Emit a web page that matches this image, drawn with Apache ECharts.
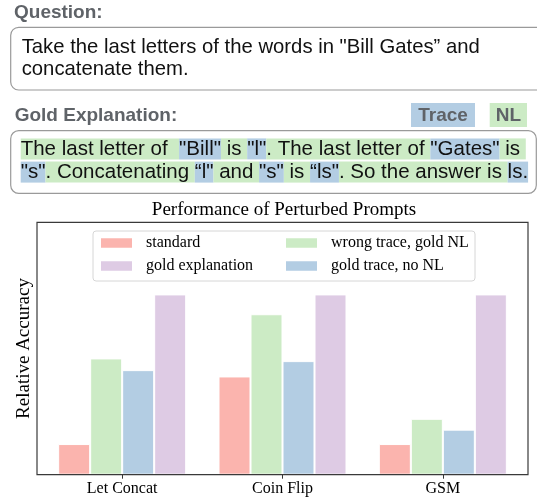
<!DOCTYPE html>
<html>
<head>
<meta charset="utf-8">
<script src="https://cdn.jsdelivr.net/npm/echarts@6/dist/echarts.min.js"></script>
<style>
html, body { margin: 0; padding: 0; background: #fff; }
#main { width: 537px; height: 497px; }
</style>
</head>
<body>
<div id="main"></div>
<script>
// bar data (relative accuracy, gold explanation = 1)
var categories = ['Let Concat', 'Coin Flip', 'GSM'];
var standard = [0.17, 0.545, 0.17];
var wrongTraceGoldNL = [0.645, 0.89, 0.31];
var goldTraceNoNL = [0.58, 0.63, 0.25];
var goldExplanation = [1, 1, 1];
var seriesNames = ['standard', 'wrong trace, gold NL', 'gold trace, no NL', 'gold explanation'];
var seriesData = [standard, wrongTraceGoldNL, goldTraceNoNL, goldExplanation];
var colors = ['#fbb4ae', '#ccebc5', '#b3cde3', '#decbe4'];

// text panel
var questionLines = ['Take the last letters of the words in "Bill Gates\u201d and', 'concatenate them.'];
// g = natural language, b = trace
var explanation = [
  [['The last letter of  ', 'g'], ['"Bill"', 'b'], [' is ', 'g'], ['"l"', 'b'], ['. The last letter of ', 'g'], ['"Gates"', 'b'], [' is ', 'g']],
  [['"s"', 'b'], ['. Concatenating ', 'g'], ['\u201cl"', 'b'], [' and ', 'g'], ['"s"', 'b'], [' is ', 'g'], ['\u201cls"', 'b'], ['. So the answer is ', 'g'], ['ls.', 'b']]
];

var sans = 'Liberation Sans';
var serif = 'Liberation Serif';
var labelGray = '#5f6368';

var richText = explanation.map(function (line) {
  return line.map(function (p) { return '{' + p[1] + '|' + p[0] + '}'; }).join('');
}).join('\n');

var chart = echarts.init(document.getElementById('main'));

var option = {
  animation: false,
  title: {
    text: 'Performance of Perturbed Prompts',
    left: 284,
    textAlign: 'center',
    top: 201,
    padding: 0,
    textStyle: { fontFamily: serif, fontSize: 19, fontWeight: 'normal', color: '#000' }
  },
  legend: [
    {
      data: [seriesNames[0], seriesNames[3]],
      orient: 'vertical', left: 99, top: 235, padding: 0,
      itemWidth: 33, itemHeight: 11.5, itemGap: 7, icon: 'rect',
      textStyle: { fontFamily: serif, fontSize: 16, color: '#000', padding: [0, 0, 0, 8] }
    },
    {
      data: [seriesNames[1], seriesNames[2]],
      orient: 'vertical', left: 284, top: 235, padding: 0,
      itemWidth: 33, itemHeight: 11.5, itemGap: 7, icon: 'rect',
      textStyle: { fontFamily: serif, fontSize: 16, color: '#000', padding: [0, 0, 0, 8] }
    }
  ],
  grid: { left: 42, right: 14, top: 222.3, bottom: 22.3 },
  xAxis: {
    type: 'category',
    data: categories,
    axisLine: { show: false },
    axisTick: { show: true, alignWithLabel: true, length: 4, lineStyle: { color: '#333' } },
    axisLabel: { fontFamily: serif, fontSize: 16, color: '#000', margin: 6 }
  },
  yAxis: {
    type: 'value', min: 0, max: 1.4,
    name: 'Relative Accuracy', nameLocation: 'middle', nameGap: 8,
    nameTextStyle: { fontFamily: serif, fontSize: 19, color: '#000' },
    axisLine: { show: false }, axisTick: { show: false },
    axisLabel: { show: false }, splitLine: { show: false }
  },
  series: seriesNames.map(function (name, i) {
    return {
      name: name,
      type: 'bar',
      data: seriesData[i],
      barWidth: 32,
      barGap: '0%',
      itemStyle: { color: colors[i], borderColor: '#fff', borderWidth: 1 }
    };
  }),
  graphic: [
    // plot frame
    { type: 'rect', z: 100, shape: { x: 37, y: 222.3, width: 491, height: 252.4 },
      style: { fill: 'none', stroke: '#3a3a3a', lineWidth: 1.2 } },
    // legend frame
    { type: 'rect', z: 1, shape: { x: 93, y: 231, width: 382, height: 50, r: 3 },
      style: { fill: '#fff', stroke: '#d6d6d6', lineWidth: 1 } },
    // question
    { type: 'text', x: 14, y: 12.5,
      style: { text: 'Question:', fontFamily: sans, fontSize: 19, fontWeight: 'bold', fill: labelGray, verticalAlign: 'middle' } },
    { type: 'rect', shape: { x: 10.7, y: 27.3, width: 540, height: 62.7, r: 8 },
      style: { fill: 'none', stroke: '#9a9a9a', lineWidth: 1.2 } },
    { type: 'text', x: 21.7, y: 36.3,
      style: { text: questionLines.join('\n'), fontFamily: sans, fontSize: 20.3, lineHeight: 22.4, fill: '#111', verticalAlign: 'top' } },
    // gold explanation
    { type: 'text', x: 14.7, y: 116,
      style: { text: 'Gold Explanation:', fontFamily: sans, fontSize: 19, fontWeight: 'bold', fill: labelGray, verticalAlign: 'middle' } },
    { type: 'rect', shape: { x: 411, y: 103, width: 64, height: 24 }, style: { fill: colors[2] } },
    { type: 'text', x: 443, y: 116,
      style: { text: 'Trace', fontFamily: sans, fontSize: 19, fontWeight: 'bold', fill: labelGray, align: 'center', verticalAlign: 'middle' } },
    { type: 'rect', shape: { x: 489.7, y: 103, width: 37.3, height: 24 }, style: { fill: colors[1] } },
    { type: 'text', x: 508.4, y: 116,
      style: { text: 'NL', fontFamily: sans, fontSize: 19, fontWeight: 'bold', fill: labelGray, align: 'center', verticalAlign: 'middle' } },
    { type: 'rect', shape: { x: 10.7, y: 130.7, width: 525.6, height: 62.6, r: 8 },
      style: { fill: 'none', stroke: '#9a9a9a', lineWidth: 1.2 } },
    { type: 'text', x: 20.7, y: 137.3,
      style: {
        text: richText, fontFamily: sans, fontSize: 20.5, fill: '#111', verticalAlign: 'top',
        rich: {
          g: { fontFamily: sans, fontSize: 20.5, lineHeight: 23.2, fill: '#111', backgroundColor: colors[1] },
          b: { fontFamily: sans, fontSize: 20.5, lineHeight: 23.2, fill: '#111', backgroundColor: colors[2] }
        }
      } }
  ]
};

chart.setOption(option);
</script>
</body>
</html>
